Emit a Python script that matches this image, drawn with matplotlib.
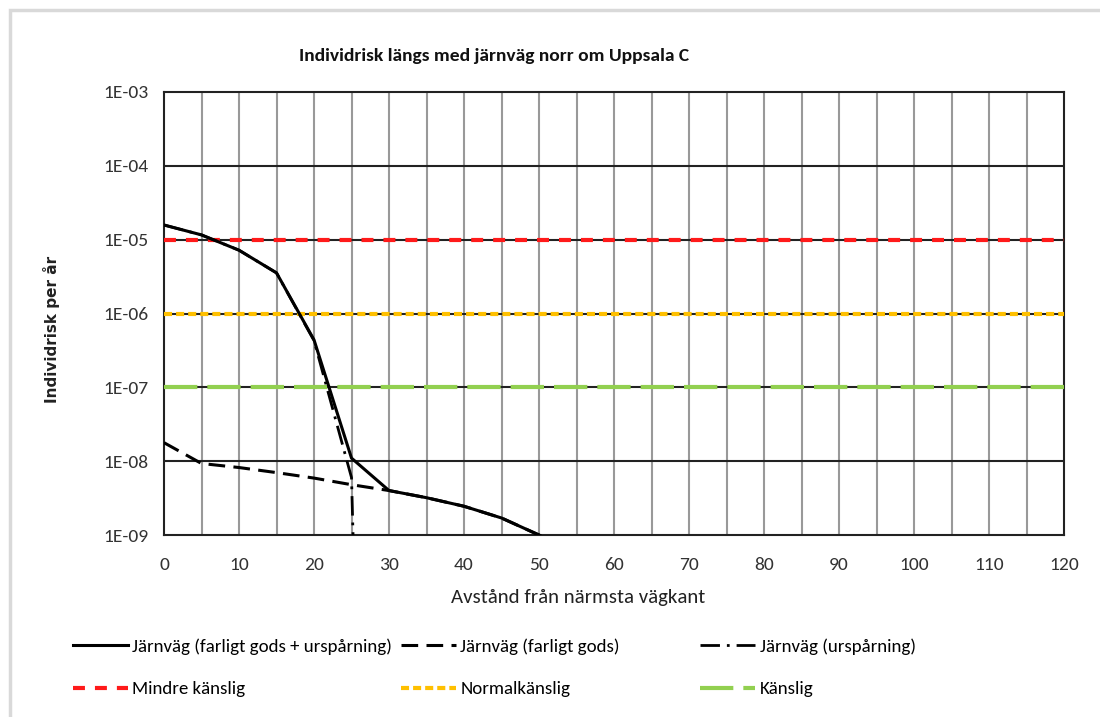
import numpy as np
import matplotlib.pyplot as plt
from matplotlib.patches import Rectangle

plt.rcParams['font.family'] = ['Carlito', 'Liberation Sans', 'DejaVu Sans']
plt.rcParams['lines.scale_dashes'] = False

# avstånd (m) och individrisk per år
x_tot = [0, 5, 10, 15, 20, 25, 30, 35, 40, 45, 50, 55]
risk_tot = [1.58e-5, 1.16e-5, 7.2e-6, 3.55e-6, 4.4e-7, 1.1e-8, 4.0e-9,
            3.2e-9, 2.45e-9, 1.7e-9, 1.0e-9, 5.0e-10]

x_gods = [0, 5, 10, 15, 20, 25, 30, 35, 40, 45, 50, 55]
risk_gods = [1.78e-8, 9.3e-9, 8.2e-9, 7.0e-9, 5.9e-9, 4.8e-9, 4.0e-9,
             3.2e-9, 2.45e-9, 1.7e-9, 1.0e-9, 5.0e-10]

x_ursp = [0, 5, 10, 15, 20, 25, 26]
risk_ursp = [1.58e-5, 1.16e-5, 7.2e-6, 3.55e-6, 4.3e-7, 6.0e-9, 1e-12]

# kriterier
x_krit = [0, 120]
krit_mindre = 1e-5
krit_normal = 1e-6
krit_kanslig = 1e-7

labels = ['Järnväg (farligt gods + urspårning)', 'Järnväg (farligt gods)',
          'Järnväg (urspårning)', 'Mindre känslig', 'Normalkänslig', 'Känslig']
title = 'Individrisk längs med järnväg norr om Uppsala C'

fig = plt.figure(figsize=(11, 7.17), dpi=100)
ax = fig.add_axes([164 / 1100, 1 - 535 / 717, 900 / 1100, 443 / 717])

ax.set_yscale('log')
ax.set_xlim(0, 120)
ax.set_ylim(1e-9, 1e-3)

# rutnät
for xv in np.arange(5, 120, 5):
    ax.axvline(xv, color='#999999', lw=1.5, zorder=1)
for e in range(-8, -3):
    ax.axhline(10.0 ** e, color='#222222', lw=1.5, zorder=1)

h_mindre, = ax.plot(x_krit, [krit_mindre] * 2, color='#ff1a1a', lw=3,
                    linestyle=(0, (8.6, 7.2)), zorder=3)
h_normal, = ax.plot(x_krit, [krit_normal] * 2, color='#ffc000', lw=3,
                    linestyle=(0, (5.8, 2.9)), zorder=3)
h_kanslig, = ax.plot(x_krit, [krit_kanslig] * 2, color='#92d050', lw=3,
                     linestyle=(0, (24, 7.2)), zorder=3)

h_tot, = ax.plot(x_tot, risk_tot, color='black', lw=2.2, zorder=5)
h_gods, = ax.plot(x_gods, risk_gods, color='black', lw=2.2,
                  linestyle=(0, (12, 6)), zorder=4)
h_ursp, = ax.plot(x_ursp, risk_ursp, color='black', lw=2.0,
                  linestyle=(0, (14, 5, 2, 5)), zorder=4)

for s in ax.spines.values():
    s.set_color('#222222')
    s.set_linewidth(1.5)
ax.tick_params(length=0, labelsize=14)
ax.tick_params(axis='x', pad=16)
ax.tick_params(axis='y', pad=11)
ax.set_xticks(np.arange(0, 121, 10))
ax.set_yticks([10.0 ** e for e in range(-9, -2)])
ax.set_yticklabels(['1E-%02d' % e for e in range(9, 2, -1)])
ax.minorticks_off()
for lab in ax.get_xticklabels() + ax.get_yticklabels():
    lab.set_color('#333333')

ax.set_xlabel('Avstånd från närmsta vägkant', fontsize=15, color='#222222')
ax.xaxis.set_label_coords(0.46, -0.121)
ax.set_ylabel('Individrisk per år', fontsize=11, fontweight='bold',
              family='DejaVu Sans', color='#222222')
ax.yaxis.set_label_coords(-0.116, 0.465)

fig.text(0.449, 1 - 56 / 717, title, fontsize=14, fontweight='bold',
         ha='center', va='center', color='#111111')

# teckenförklaring, tre kolumner
cols = [([h_tot, h_mindre], [labels[0], labels[3]], 73),
        ([h_gods, h_normal], [labels[1], labels[4]], 401),
        ([h_ursp, h_kanslig], [labels[2], labels[5]], 700)]
for handles, labs, x0 in cols:
    fig.legend(handles, labs, loc='upper left',
               bbox_to_anchor=(x0 / 1100, 1 - 638 / 717),
               frameon=False, fontsize=13.6, handlelength=2.9,
               handletextpad=0.25, labelspacing=1.4, borderpad=0,
               borderaxespad=0)

fig.patches.append(Rectangle((10 / 1100, -0.1), 1.2, 1 - 10 / 717 + 0.1,
                             transform=fig.transFigure, fill=False,
                             edgecolor='#d9d9d9', lw=2.5))

fig.savefig('out.png', dpi=100)
